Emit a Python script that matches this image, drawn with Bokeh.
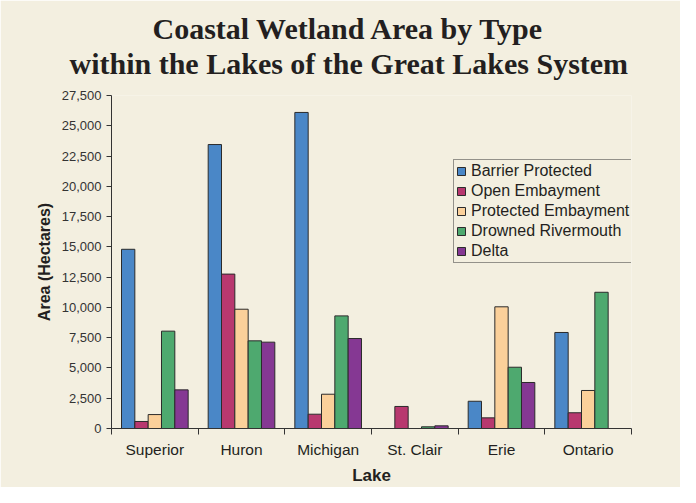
import numpy as np
from bokeh.plotting import figure
from bokeh.models import (Range1d, FixedTicker, NumeralTickFormatter, Legend,
                          LegendItem, Title)
from bokeh.embed import file_html
from bokeh.resources import INLINE

# ---- data ----
lakes = ["Superior", "Huron", "Michigan", "St. Clair", "Erie", "Ontario"]
wetland_types = ["Barrier Protected", "Open Embayment", "Protected Embayment",
                 "Drowned Rivermouth", "Delta"]
barrier_protected = [14800, 23450, 26100, 0, 2250, 7930]
open_embayment = [580, 12750, 1180, 1820, 880, 1300]
protected_embayment = [1150, 9850, 2830, 0, 10050, 3140]
drowned_rivermouth = [8040, 7240, 9300, 140, 5060, 11250]
delta = [3190, 7130, 7430, 220, 3800, 0]
y_tick_values = [0, 2500, 5000, 7500, 10000, 12500, 15000, 17500, 20000,
                 22500, 25000, 27500]
title_lines = ["Coastal Wetland Area by Type",
               "within the Lakes of the Great Lakes System"]

series = [barrier_protected, open_embayment, protected_embayment,
          drowned_rivermouth, delta]
colors = ["#4a87c7", "#b8386f", "#fbd09a", "#4ea96f", "#853893"]

CREAM = "#f3efe0"
INK = "#231f20"
W, H = 680, 487

p = figure(width=W, height=H,
           x_range=Range1d(0, len(lakes)), y_range=Range1d(0, 27500),
           output_backend="svg", toolbar_location=None,
           min_border_left=111, min_border_right=49,
           min_border_top=95, min_border_bottom=59,
           background_fill_color=CREAM, border_fill_color=CREAM,
           outline_line_color=None)
p.grid.visible = False

# two-line title: second line sits next to the frame, first line above it
title_style = dict(align="left", text_font="Liberation Serif",
                   text_font_size="30px", text_font_style="bold",
                   text_color=INK, vertical_align="bottom")
p.title.text = ""
p.add_layout(Title(text=title_lines[1], offset=-42, standoff=31,
                   **title_style), "above")
p.add_layout(Title(text=title_lines[0], offset=41, standoff=-30,
                   **title_style), "above")

# bars
w = 0.1538
centers = np.arange(len(lakes)) + 0.5
renderers = []
for j, (vals, col) in enumerate(zip(series, colors)):
    r = p.vbar(x=centers + (j - 2) * w, top=vals, bottom=0, width=w,
               fill_color=col, line_color="#2b2b2b", line_width=1)
    renderers.append(r)

# y axis
ya = p.yaxis[0]
ya.ticker = FixedTicker(ticks=y_tick_values, minor_ticks=[])
ya.formatter = NumeralTickFormatter(format="0,0")
ya.major_tick_out = 5
ya.major_tick_in = 0
ya.minor_tick_out = 0
ya.minor_tick_in = 0
ya.axis_line_color = "#333333"
ya.major_tick_line_color = "#333333"
ya.major_label_text_font = "Liberation Sans"
ya.major_label_text_font_size = "13px"
ya.major_label_text_color = "#333333"
ya.major_label_standoff = 5
ya.axis_label = "Area (Hectares)"
ya.axis_label_text_font = "Liberation Sans"
ya.axis_label_text_font_size = "16px"
ya.axis_label_text_font_style = "bold"
ya.axis_label_text_color = INK
ya.axis_label_standoff = 6

# x axis
xa = p.xaxis[0]
xa.ticker = FixedTicker(ticks=list(centers),
                        minor_ticks=list(range(len(lakes) + 1)))
xa.major_label_overrides = {float(c): name for c, name in zip(centers, lakes)}
xa.major_tick_out = 0
xa.major_tick_in = 0
xa.minor_tick_out = 6
xa.minor_tick_in = 0
xa.axis_line_color = "#333333"
xa.minor_tick_line_color = "#333333"
xa.major_label_text_font = "Liberation Sans"
xa.major_label_text_font_size = "15.5px"
xa.major_label_text_color = INK
xa.major_label_standoff = 6
xa.axis_label = "Lake"
xa.axis_label_text_font = "Liberation Sans"
xa.axis_label_text_font_size = "17px"
xa.axis_label_text_font_style = "bold"
xa.axis_label_text_color = INK
xa.axis_label_standoff = 5

legend = Legend(items=[LegendItem(label=t, renderers=[r])
                       for t, r in zip(wetland_types, renderers)],
                location=(342, 165), orientation="vertical",
                border_line_color="#333333", border_line_width=1,
                background_fill_color=CREAM, background_fill_alpha=1,
                padding=2, margin=0, spacing=2,
                glyph_width=10, glyph_height=10, label_standoff=5,
                label_height=18, label_text_font="Liberation Sans",
                label_text_font_size="16px", label_text_color=INK)
p.add_layout(legend)

open("out.html", "w").write(file_html(p, INLINE))
